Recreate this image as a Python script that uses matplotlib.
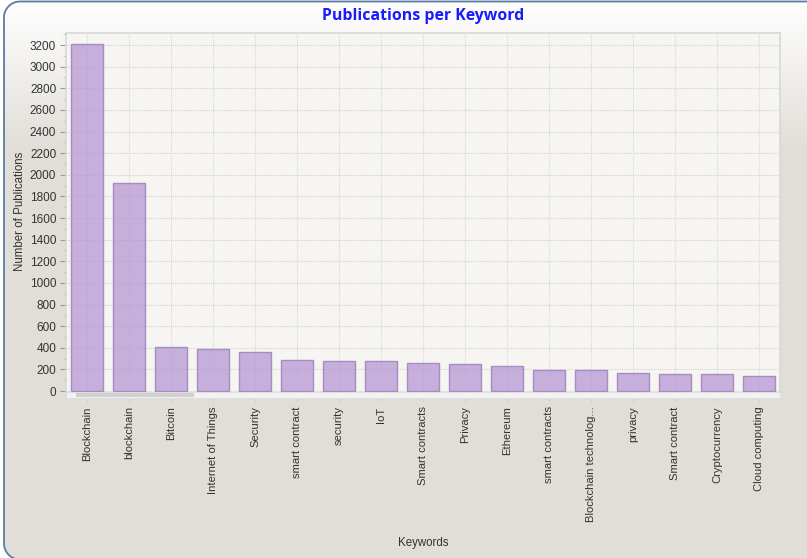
import numpy as np
import matplotlib.pyplot as plt
from matplotlib.patches import Polygon, Rectangle

keywords = ['Blockchain', 'blockchain', 'Bitcoin', 'Internet of Things', 'Security',
            'smart contract', 'security', 'IoT', 'Smart contracts', 'Privacy',
            'Ethereum', 'smart contracts', 'Blockchain technolog...', 'privacy',
            'Smart contract', 'Cryptocurrency', 'Cloud computing']
counts = [3209, 1928, 406, 385, 357, 290, 280, 280, 258, 248,
          230, 195, 194, 170, 161, 160, 142]

W, H = 807, 558


def rounded_rect(x0, y0, x1, y1, r, n=20):
    # corners in pixel coords (y grows downwards)
    pts = []
    for cx, cy, a0 in [(x0 + r, y0 + r, 180), (x1 - r, y0 + r, 270),
                       (x1 - r, y1 - r, 0), (x0 + r, y1 - r, 90)]:
        a = np.radians(np.linspace(a0, a0 + 90, n))
        pts += list(zip(cx + r * np.cos(a), cy + r * np.sin(a)))
    return np.array(pts)


fig = plt.figure(figsize=(W / 100, H / 100), dpi=100)
fig.patch.set_facecolor('white')

# background panel (pixel coordinates)
bg = fig.add_axes([0, 0, 1, 1])
bg.set_xlim(0, W)
bg.set_ylim(H, 0)
bg.axis('off')
panel = Polygon(rounded_rect(4, 1.5, 830, 559.5, 16), closed=True,
                facecolor='none', edgecolor='#5a7ba6', lw=1.3, zorder=3)
bg.add_patch(panel)
top = np.array([1.0, 1.0, 1.0])
bottom = np.array([0xe1, 0xde, 0xd8]) / 255
t = np.clip(np.arange(H) / 150.0, 0, 1)[:, None, None]
grad = top * (1 - t) + bottom * t
grad = np.repeat(grad, 2, axis=1)
im = bg.imshow(grad, extent=[0, W, H, 0], aspect='auto', zorder=1)
im.set_clip_path(panel)

ax = fig.add_axes([66 / W, 1 - 398 / H, 714 / W, 365 / H])
ax.set_facecolor('#f6f5f2')
x = np.arange(len(keywords))
ax.bar(x, counts, width=0.76, color=(180 / 255, 146 / 255, 211 / 255, 0.7),
       edgecolor='#a68cc2', linewidth=1.0, zorder=2)
ax.set_xlim(-0.5, len(keywords) - 0.5)
ax.set_ylim(-64.7, 3311)
ax.set_yticks(np.arange(0, 3201, 200))
ax.set_yticks(np.arange(0, 3301, 100), minor=True)
ax.set_xticks(x)
ax.set_xticklabels(keywords, rotation=90, family='Liberation Sans', fontsize=8.1, color='#333333')
for lab in ax.get_yticklabels():
    lab.set_family('Liberation Sans')
ax.tick_params(axis='y', which='major', length=4, width=0.8, color='#999999',
               labelsize=8.5, labelcolor='#333333', pad=3)
ax.tick_params(axis='y', which='minor', length=2, width=0.6, color='#bbbbbb')
ax.tick_params(axis='x', length=2, color='#cccccc', pad=4)
ax.grid(axis='y', which='major', color='#d2d2d2', linestyle=(0, (1, 1)), lw=0.8, zorder=1)
ax.grid(axis='x', color='#d8d8d8', linestyle=(0, (1, 1)), lw=0.8, zorder=3)
for s in ax.spines.values():
    s.set_color('#d8d8d8')
    s.set_linewidth(1.2)

# scroll bar strip under the plot
fig.add_artist(Rectangle((66 / W, 1 - 398 / H), 714 / W, 6 / H, transform=fig.transFigure,
                         facecolor='#f2f2f2', edgecolor='#dddddd', lw=0.6))
fig.add_artist(Rectangle((76 / W, 1 - 397 / H), 118 / W, 4 / H, transform=fig.transFigure,
                         facecolor='#d0d0d0', edgecolor='none'))

fig.text(423 / W, 1 - 16 / H, 'Publications per Keyword', ha='center', va='center',
         family='Open Sans', fontweight='bold', fontsize=11.4, color='#1a1aff')
fig.text(20 / W, 1 - 211 / H, 'Number of Publications', rotation=90, ha='center', va='center',
         family='Liberation Sans', fontsize=8.3, color='#333333')
fig.text(423 / W, 1 - 543 / H, 'Keywords', ha='center', va='center',
         family='Liberation Sans', fontsize=8.3, color='#333333')

fig.savefig('out.png', dpi=100)
